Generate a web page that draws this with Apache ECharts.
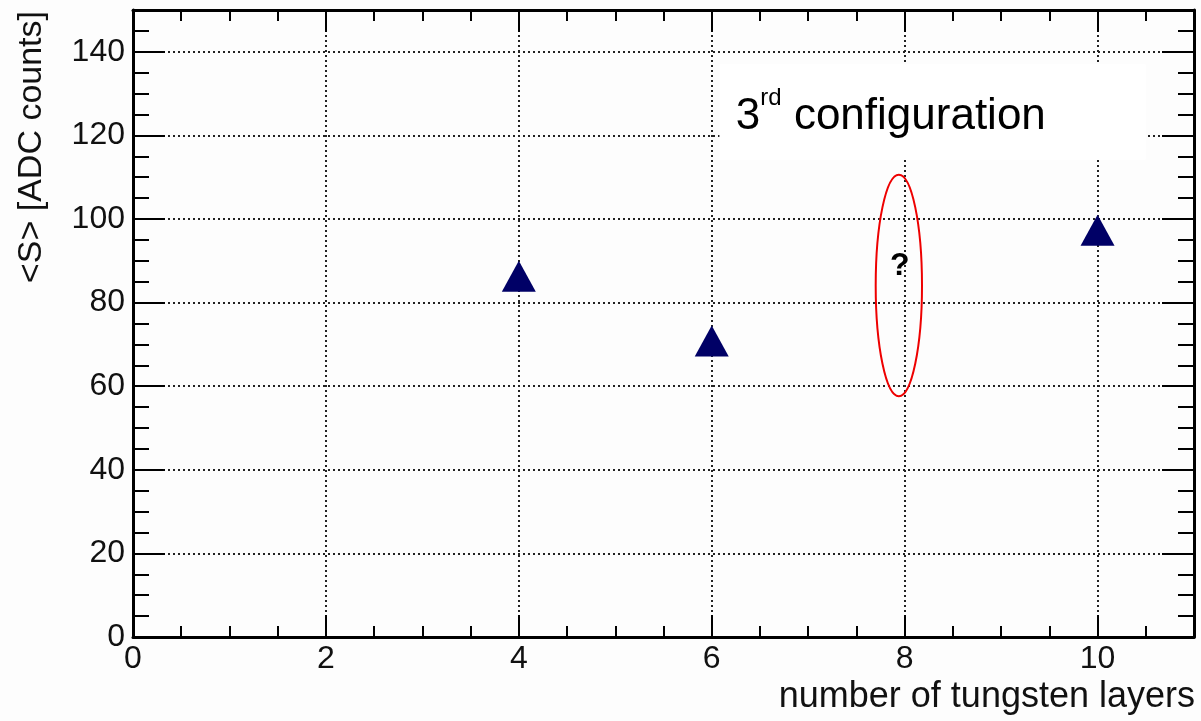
<!DOCTYPE html>
<html>
<head>
<meta charset="utf-8">
<title>3rd configuration</title>
<script src="https://cdn.jsdelivr.net/npm/echarts@6/dist/echarts.min.js"></script>
<style>
    html, body { margin: 0; padding: 0; background: #fdfdfd; }
    #main { width: 1201px; height: 721px; }
</style>
</head>
<body>
<div id="main"></div>
<script>
// 数据
var layers = [4, 6, 10];
var signal = [86.3, 70.8, 97.3];
var xTickLabels = [0, 2, 4, 6, 8, 10];
var yTickLabels = [0, 20, 40, 60, 80, 100, 120, 140];
// 缺失的第8层: 问号 + 红色椭圆 (中心, 半径)
var missing = [7.94, 84.1];
var missingRadius = [0.24, 26.5];
// 注释文字框 (x范围, y范围)
var noteBoxX = [6.08, 10.5];
var noteBoxY = [114.2, 137];
var noteAt = [6.25, 124.5];

var FONT = "'Liberation Sans', Arial, sans-serif";
var XMIN = 0, XMAX = 11, YMIN = 0, YMAX = 150;

var chart = echarts.init(document.getElementById('main'));

// 坐标轴生成: 主刻度 / 次刻度
function xAxisDef(pos, step, tickLen, main) {
    return {
        type: 'value', position: pos, min: XMIN, max: XMAX, interval: step,
        axisLine: { show: main, onZero: false, lineStyle: { color: '#000', width: 3 } },
        axisTick: { show: true, inside: true, length: tickLen, lineStyle: { color: '#000', width: 2 } },
        axisLabel: {
            show: main && pos === 'bottom', margin: 6, showMaxLabel: false,
            color: '#111', fontFamily: FONT, fontSize: 32,
            formatter: function (v) { return xTickLabels.indexOf(v) >= 0 ? String(v) : ''; }
        },
        splitLine: {
            show: main && pos === 'bottom',
            lineStyle: { color: '#222', width: 2, type: [2, 3] }
        }
    };
}
function yAxisDef(pos, step, tickLen, main) {
    return {
        type: 'value', position: pos, min: YMIN, max: YMAX, interval: step,
        axisLine: { show: main, onZero: false, lineStyle: { color: '#000', width: 3 } },
        axisTick: { show: true, inside: true, length: tickLen, lineStyle: { color: '#000', width: 2 } },
        axisLabel: {
            show: main && pos === 'left', margin: 8, showMaxLabel: false,
            color: '#111', fontFamily: FONT, fontSize: 32,
            formatter: function (v) { return yTickLabels.indexOf(v) >= 0 ? String(v) : ''; }
        },
        splitLine: {
            show: main && pos === 'left',
            lineStyle: { color: '#222', width: 2, type: [2, 3] }
        }
    };
}

var option = {
    backgroundColor: '#fdfdfd',
    animation: false,
    grid: { left: 133, right: 7, top: 10, bottom: 84, outerBoundsMode: 'none' },
    xAxis: [
        xAxisDef('bottom', 2, 22, true),
        xAxisDef('bottom', 0.5, 11, false),
        xAxisDef('top', 2, 22, true),
        xAxisDef('top', 0.5, 11, false)
    ],
    yAxis: [
        yAxisDef('left', 20, 32, true),
        yAxisDef('left', 5, 16, false),
        yAxisDef('right', 20, 32, true),
        yAxisDef('right', 5, 16, false)
    ],
    graphic: [
        {
            type: 'text', right: 6, bottom: 6,
            style: { text: 'number of tungsten layers', font: '36px ' + FONT, fill: '#111' }
        },
        {
            type: 'text', x: 32, y: 11, rotation: Math.PI / 2,
            style: {
                text: '<S> [ADC counts]', font: '34px ' + FONT, fill: '#111',
                align: 'right', verticalAlign: 'middle'
            }
        }
    ],
    series: [
        {
            // 注释框 + "3rd configuration"
            type: 'custom', xAxisIndex: 0, yAxisIndex: 0, z: 1, clip: false, silent: true,
            data: [noteAt],
            renderItem: function (params, api) {
                var p0 = api.coord([noteBoxX[0], noteBoxY[1]]);
                var p1 = api.coord([noteBoxX[1], noteBoxY[0]]);
                var t = api.coord([api.value(0), api.value(1)]);
                return {
                    type: 'group',
                    children: [
                        { type: 'rect', shape: { x: p0[0], y: p0[1], width: p1[0] - p0[0], height: p1[1] - p0[1] },
                          style: { fill: '#ffffff' } },
                        { type: 'text', x: t[0], y: t[1],
                          style: {
                              text: '{a|3}{s|rd}{a| configuration}',
                              align: 'left', verticalAlign: 'middle',
                              rich: {
                                  a: { fontFamily: FONT, fontSize: 44, lineHeight: 60, color: '#111' },
                                  s: { fontFamily: FONT, fontSize: 24, lineHeight: 24, verticalAlign: 'top', color: '#111' }
                              }
                          } }
                    ]
                };
            }
        },
        {
            name: '<S>',
            type: 'scatter', xAxisIndex: 0, yAxisIndex: 0, z: 3,
            symbol: 'triangle', symbolSize: [34, 31],
            itemStyle: { color: '#000066', opacity: 1 },
            data: layers.map(function (x, i) { return [x, signal[i]]; })
        },
        {
            // 缺失点: 红色椭圆和问号
            type: 'custom', xAxisIndex: 0, yAxisIndex: 0, z: 4, clip: false, silent: true,
            data: [missing],
            renderItem: function (params, api) {
                var c = api.coord([api.value(0), api.value(1)]);
                var rx = api.size([missingRadius[0], 0])[0];
                var ry = api.size([0, missingRadius[1]])[1];
                var q = api.coord([api.value(0) + 0.01, api.value(1) + 4.6]);
                return {
                    type: 'group',
                    children: [
                        { type: 'ellipse', shape: { cx: c[0], cy: c[1], rx: rx, ry: ry },
                          style: { fill: null, stroke: '#ee0000', lineWidth: 2 } },
                        { type: 'text', x: q[0], y: q[1],
                          style: { text: '?', font: 'bold 32px ' + FONT, fill: '#000',
                                   align: 'center', verticalAlign: 'middle' } }
                    ]
                };
            }
        }
    ]
};

chart.setOption(option);
</script>
</body>
</html>
